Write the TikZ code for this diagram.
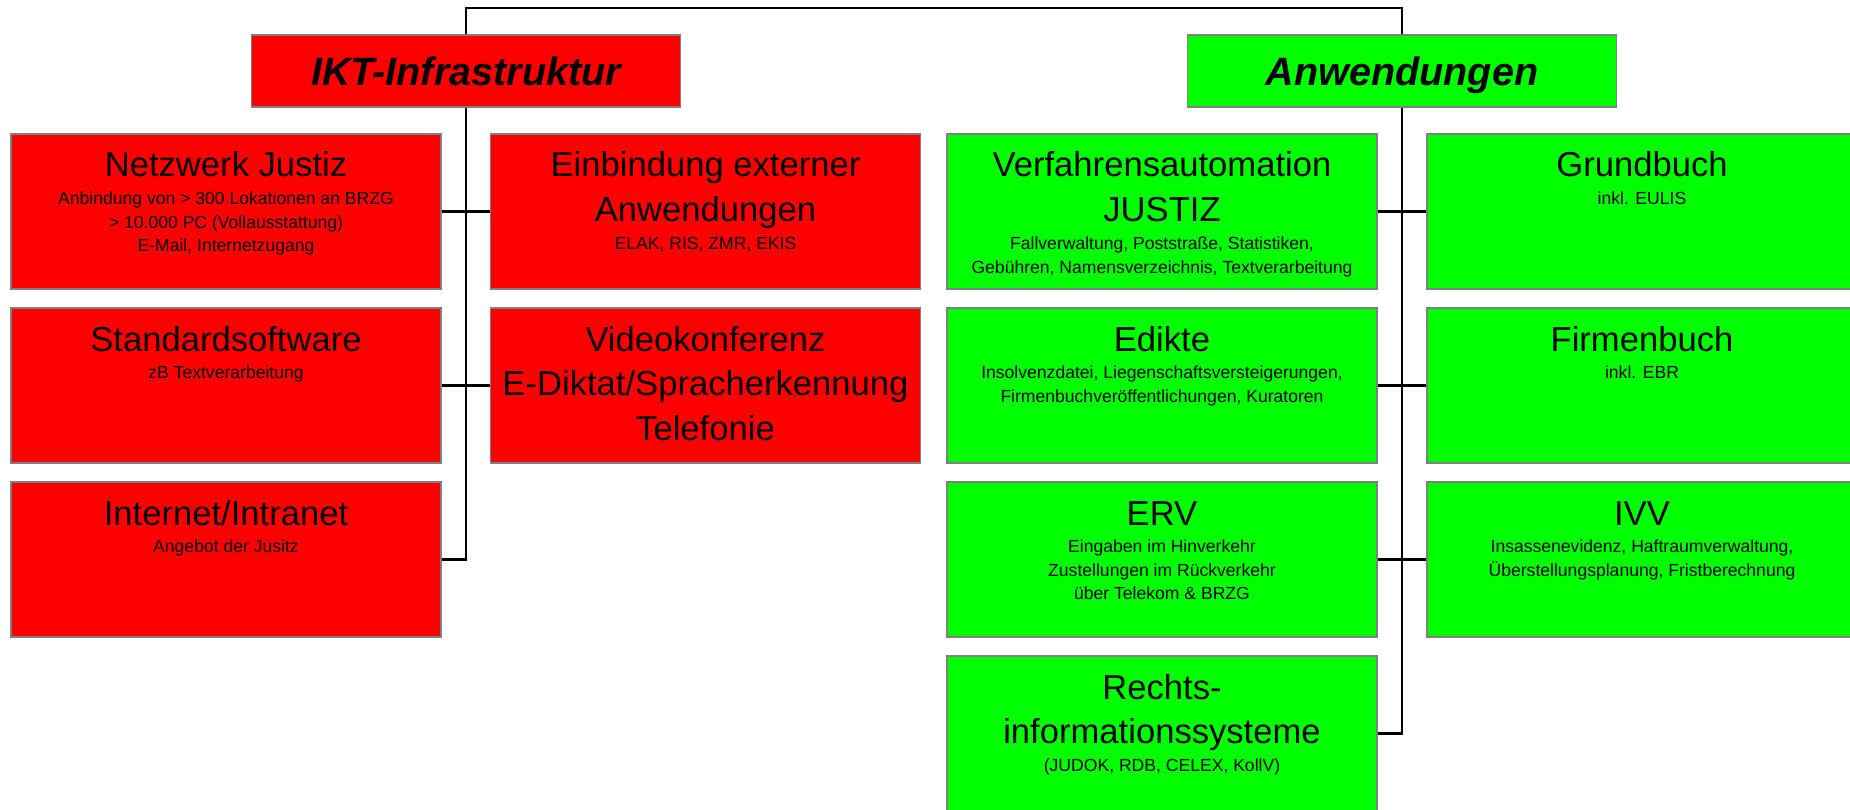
\documentclass[tikz,border=0pt]{standalone}
\usepackage{fontspec}
\setmainfont{Liberation Sans}
\usepackage{tikz}
\usetikzlibrary{positioning,calc}
\usepackage{xcolor}
\definecolor{iktred}{RGB}{255,0,0}
\definecolor{anwgreen}{RGB}{0,255,0}
\definecolor{boxgray}{RGB}{128,128,128}
\tikzstyle{orgline} = [line width=1.15pt, color=black]
\tikzstyle{headbox} = [rectangle, draw=boxgray, line width=1.1pt, minimum width=8.58cm, minimum height=1.44cm, font=\fontsize{22.5}{27}\selectfont\bfseries\itshape, text height=16pt, text depth=0pt]
\tikzstyle{orgbox} = [rectangle, draw=boxgray, line width=1.1pt, inner sep=0pt]
\newcommand{\orgtext}[2]{\parbox[c][3.1cm][t]{8.6cm}{\centering\vspace*{0.23cm}%
  {\fontsize{19.7}{25.6}\selectfont\rule{0pt}{0.63cm}#1\par}%
  \vspace{2.6pt}%
  {\fontsize{10}{13.3}\selectfont #2\par}}}

\begin{document}
\begin{tikzpicture}
\useasboundingbox (0,0) rectangle (37,-16.2);
% Headers
\coordinate (topline) at (0,-0.166);
\node[headbox, fill=iktred] (ikt) at (9.32,-1.42) {IKT-Infrastruktur};
\node[headbox, fill=anwgreen] (anw) at (28.04,-1.42) {Anwendungen};

% IKT boxes
\node[orgbox, fill=iktred] (netz) at (4.52,-4.23) {\orgtext{Netzwerk Justiz}{Anbindung von > 300 Lokationen an BRZG\\ > 10.000 PC (Vollausstattung)\\ E-Mail, Internetzugang}};
\node[orgbox, fill=iktred] (einb) at (14.11,-4.23) {\orgtext{Einbindung externer\\ Anwendungen}{ELAK, RIS, ZMR, EKIS}};
\node[orgbox, fill=iktred] (std) at (4.52,-7.71) {\orgtext{Standardsoftware}{zB Textverarbeitung}};
\node[orgbox, fill=iktred] (video) at (14.11,-7.71) {\orgtext{Videokonferenz\\ E-Diktat/Spracherkennung\\ Telefonie}{}};
\node[orgbox, fill=iktred] (inet) at (4.52,-11.19) {\orgtext{Internet/Intranet}{Angebot der Jusitz}};

% Anwendungen boxes
\node[orgbox, fill=anwgreen] (verf) at (23.24,-4.23) {\orgtext{Verfahrensautomation\\ JUSTIZ}{Fallverwaltung, Poststraße, Statistiken,\\ Gebühren, Namensverzeichnis, Textverarbeitung}};
\node[orgbox, fill=anwgreen] (grund) at (32.84,-4.23) {\orgtext{Grundbuch}{inkl. EULIS}};
\node[orgbox, fill=anwgreen] (edikte) at (23.24,-7.71) {\orgtext{Edikte}{Insolvenzdatei, Liegenschaftsversteigerungen,\\ Firmenbuchveröffentlichungen, Kuratoren}};
\node[orgbox, fill=anwgreen] (firmen) at (32.84,-7.71) {\orgtext{Firmenbuch}{inkl. EBR}};
\node[orgbox, fill=anwgreen] (erv) at (23.24,-11.19) {\orgtext{ERV}{Eingaben im Hinverkehr\\ Zustellungen im Rückverkehr\\ über Telekom \& BRZG}};
\node[orgbox, fill=anwgreen] (ivv) at (32.84,-11.19) {\orgtext{IVV}{Insassenevidenz, Haftraumverwaltung,\\ Überstellungsplanung, Fristberechnung}};
\node[orgbox, fill=anwgreen] (rechts) at (23.24,-14.67) {\orgtext{Rechts-\\ informationssysteme}{(JUDOK, RDB, CELEX, KollV)}};

% Connections
\draw[orgline] (ikt.north) -- (ikt.north |- topline) -- (anw.north |- topline) -- (anw.north);
\draw[orgline] (ikt.south) |- (inet.east);
\draw[orgline] (anw.south) |- (rechts.east);
\foreach \a/\b in {netz/einb, std/video, verf/grund, edikte/firmen, erv/ivv} {
    \draw[orgline] (\a.east) -- (\b.west);
}
\end{tikzpicture}
\end{document}
